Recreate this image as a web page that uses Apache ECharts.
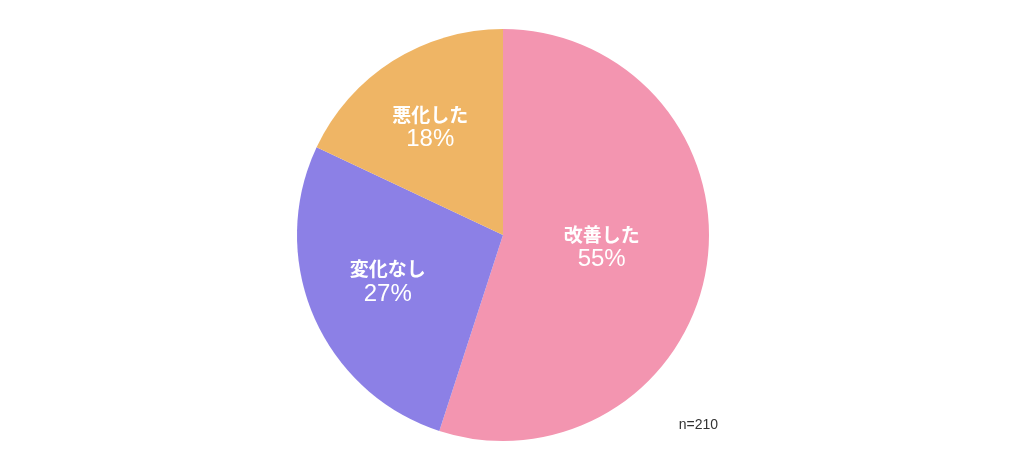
<!DOCTYPE html>
<html><head><meta charset="utf-8">
<script src="https://cdn.jsdelivr.net/npm/echarts@6/dist/echarts.min.js"></script>
<style>html,body{margin:0;padding:0;background:#fff}#c{width:1016px;height:470px}</style>
</head><body><div id="c"></div>
<script>
const categories = ['改善した', '変化なし', '悪化した'];
const values = [55, 27, 18];
const colors = ['#F395B0', '#8C80E6', '#EFB565'];
const note = 'n=210';
const labelShift = [[-6, -4], [-18, 5], [-16, -18]];

const chart = echarts.init(document.getElementById('c'));
chart.setOption({
  animation: false,
  backgroundColor: '#ffffff',
  graphic: [{
    type: 'text', right: 298, top: 418,
    style: { text: note, fontSize: 14, fill: '#333', fontFamily: 'Liberation Sans, Arial, sans-serif' }
  }],
  series: [{
    type: 'pie',
    center: [503, 235],
    radius: 206,
    startAngle: 90,
    clockwise: true,
    silent: true,
    itemStyle: { borderWidth: 0 },
    label: {
      show: true,
      position: 'inside',
      formatter: p => '{n|' + p.name + '}\n{p|' + p.value + '%}',
      rich: {
        n: { fontSize: 19, fontWeight: 'bold', color: '#fff', lineHeight: 24, fontFamily: 'Noto Sans CJK JP, sans-serif' },
        p: { fontSize: 24, color: '#fff', lineHeight: 26, fontFamily: 'Liberation Sans, Arial, sans-serif' }
      }
    },
    labelLayout: p => ({ dx: labelShift[p.dataIndex][0], dy: labelShift[p.dataIndex][1] }),
    labelLine: { show: false },
    data: categories.map((c, i) => ({ name: c, value: values[i], itemStyle: { color: colors[i] } }))
  }]
});
</script></body></html>
